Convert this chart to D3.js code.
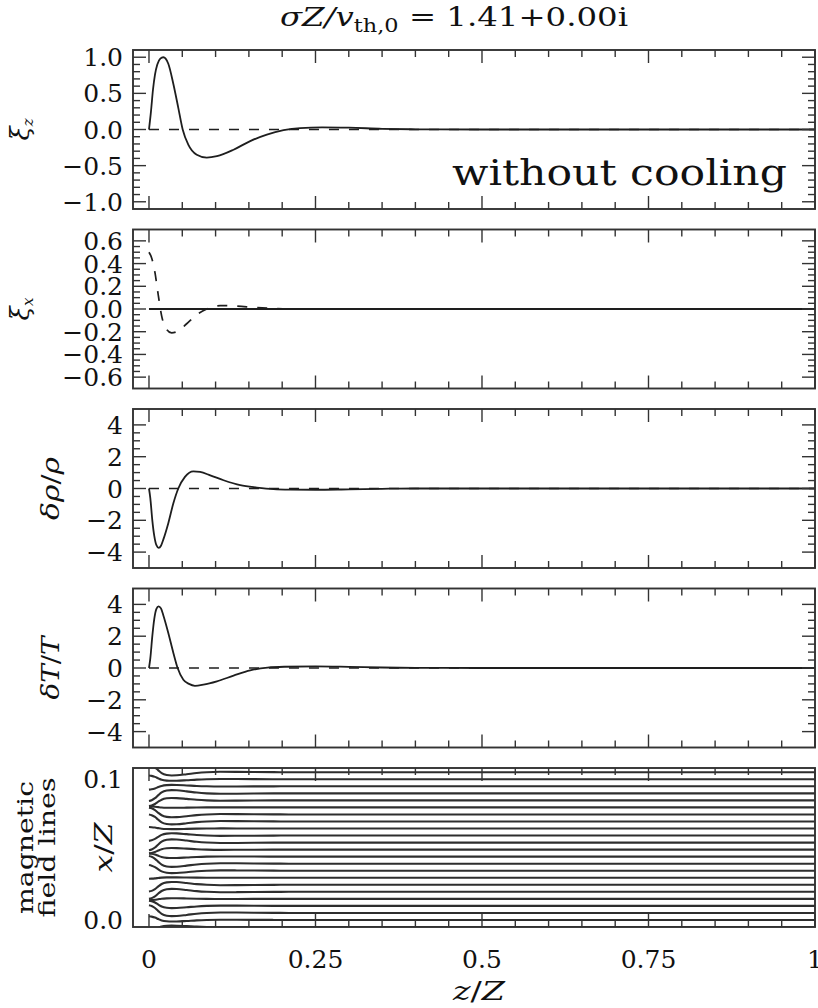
<!DOCTYPE html>
<html>
<head>
<meta charset="utf-8">
<script src="https://cdn.jsdelivr.net/npm/d3@7"></script>
<style>
  body { margin: 0; background: #fff; }
  text { font-family: "DejaVu Serif", serif; fill: #111; }
</style>
</head>
<body>
<script>
// eigenfunctions: [z/Z, value]
const xiZReal = [[0,0],[0.003,0.25],[0.006,0.55],[0.009,0.76],[0.0125,0.9],[0.017,0.98],[0.0215,1.0],
  [0.029,0.91],[0.0366,0.63],[0.044,0.3],[0.0506,0],[0.059,-0.21],[0.0717,-0.35],[0.0867,-0.39],
  [0.102,-0.37],[0.127,-0.28],[0.152,-0.16],[0.177,-0.07],[0.202,-0.01],[0.227,0.02],[0.26,0.03],
  [0.3,0.025],[0.35,0.01],[0.4,0.003],[0.5,0],[1,0]];
const xiXImag = [[0,0.5],[0.004,0.45],[0.009,0.32],[0.014,0.12],[0.019,-0.06],[0.0266,-0.18],
  [0.034,-0.21],[0.0416,-0.2],[0.0566,-0.13],[0.0717,-0.05],[0.0867,0],[0.107,0.03],[0.132,0.025],
  [0.157,0.015],[0.187,0.005],[0.21,0],[1,0]];
const rhoReal = [[0,0],[0.002,-0.6],[0.005,-2.0],[0.008,-3.0],[0.011,-3.55],[0.0145,-3.73],[0.018,-3.6],
  [0.0216,-3.2],[0.029,-2.18],[0.0366,-0.93],[0.044,0],[0.054,0.73],[0.0666,1.08],[0.0767,1.04],
  [0.092,0.83],[0.112,0.52],[0.137,0.21],[0.162,0.06],[0.187,-0.04],[0.212,-0.07],[0.25,-0.08],
  [0.3,-0.05],[0.35,-0.02],[0.4,0],[1,0]];
const tempReal = [[0,0],[0.002,0.6],[0.005,2.0],[0.008,3.1],[0.011,3.7],[0.0145,3.88],[0.018,3.75],
  [0.0216,3.3],[0.029,2.2],[0.0366,0.95],[0.043,0],[0.0516,-0.74],[0.06,-1.0],[0.069,-1.12],
  [0.0817,-1.05],[0.102,-0.84],[0.127,-0.48],[0.152,-0.15],[0.178,0.03],[0.203,0.08],[0.25,0.1],
  [0.3,0.07],[0.35,0.03],[0.4,0.01],[0.5,0],[1,0]];
const zeroLine = [[0,0],[1,0]];

// field lines: unperturbed x/Z positions, displaced by xi_x
const fieldLineX0 = [-0.005,0,0.005,0.01,0.015,0.02,0.025,0.03,0.035,0.04,0.045,0.05,0.055,
  0.06,0.065,0.07,0.075,0.08,0.085,0.09,0.095,0.1,0.105];
const fieldAmp = 0.0055, fieldPeriod = 0.1 / 3, fieldPhase = 0.014;

const xMajor = [0, 0.25, 0.5, 0.75, 1];
const xTickLabels = ["0", "0.25", "0.5", "0.75", "1"];
const xMinorStep = 0.05;

const yMajor1 = [-1, -0.5, 0, 0.5, 1], yLabels1 = ["−1.0", "−0.5", "0.0", "0.5", "1.0"];
const yMajor2 = [-0.6, -0.4, -0.2, 0, 0.2, 0.4, 0.6], yLabels2 = ["−0.6", "−0.4", "−0.2", "0.0", "0.2", "0.4", "0.6"];
const yMajor3 = [-4, -2, 0, 2, 4], yLabels3 = ["−4", "−2", "0", "2", "4"];
const yMajor5 = [0, 0.1], yLabels5 = ["0.0", "0.1"];

const W = 818, H = 1008;
const frameL = 133, frameR = 815, panelH = 159;

const svg = d3.select("body").append("svg").attr("width", W).attr("height", H);

const x = d3.scaleLinear().domain([-0.024, 1]).range([frameL, frameR]);

const panels = [
  {domain: [-1.1, 1.1], major: yMajor1, labels: yLabels1, minor: 0.1, solid: xiZReal, dashed: zeroLine},
  {domain: [-0.7, 0.7], major: yMajor2, labels: yLabels2, minor: 0.05, solid: zeroLine, dashed: xiXImag},
  {domain: [-5, 5], major: yMajor3, labels: yLabels3, minor: 0.5, solid: rhoReal, dashed: zeroLine},
  {domain: [-5, 5], major: yMajor3, labels: yLabels3, minor: 0.5, solid: tempReal, dashed: zeroLine},
  {domain: [-0.005, 0.108], major: yMajor5, labels: yLabels5, minor: null, field: true}
];

const ink = "#1e1e1e";

panels.forEach((p, i) => {
  const top = 50 + i * 179.5;
  const y = d3.scaleLinear().domain(p.domain).range([top + panelH, top]);
  const g = svg.append("g");

  const clipId = "clip" + i;
  svg.append("clipPath").attr("id", clipId).append("rect")
    .attr("x", frameL).attr("y", top).attr("width", frameR - frameL).attr("height", panelH);

  const line = d3.line().x(d => x(d[0])).y(d => y(d[1])).curve(d3.curveMonotoneX);
  const plot = g.append("g").attr("clip-path", `url(#${clipId})`);

  if (p.field) {
    const x0 = xiXImag[0][1];
    fieldLineX0.forEach(b => {
      const shape = Math.sin(2 * Math.PI * (b - fieldPhase) / fieldPeriod);
      const pts = xiXImag.map(([z, v]) => [z, b - fieldAmp * (v / x0) * shape]);
      plot.append("path").attr("d", line(pts))
        .attr("fill", "none").attr("stroke", "#2e2e2e").attr("stroke-width", 2.1);
    });
  } else {
    plot.append("path").attr("d", line(p.dashed))
      .attr("fill", "none").attr("stroke", ink).attr("stroke-width", 1.7)
      .attr("stroke-dasharray", "10,10");
    plot.append("path").attr("d", line(p.solid))
      .attr("fill", "none").attr("stroke", ink).attr("stroke-width", 1.8);
  }

  // x ticks, top and bottom
  const xMinor = d3.range(0, 1 + 1e-9, xMinorStep).filter(v => !xMajor.some(m => Math.abs(m - v) < 1e-9));
  const ticks = g.append("g").attr("stroke", "#333").attr("stroke-width", 1.4);
  [[xMajor, 13], [xMinor, 7]].forEach(([vals, len]) => {
    vals.forEach(v => {
      ticks.append("line").attr("x1", x(v)).attr("x2", x(v)).attr("y1", top + panelH).attr("y2", top + panelH - len);
      ticks.append("line").attr("x1", x(v)).attr("x2", x(v)).attr("y1", top).attr("y2", top + len);
    });
  });

  // y ticks, left and right
  if (p.minor) {
    const yMinor = d3.range(p.major[0], p.major[p.major.length - 1] + 1e-9, p.minor)
      .filter(v => !p.major.some(m => Math.abs(m - v) < 1e-9));
    [[p.major, 13], [yMinor, 7]].forEach(([vals, len]) => {
      vals.forEach(v => {
        ticks.append("line").attr("x1", frameL).attr("x2", frameL + len).attr("y1", y(v)).attr("y2", y(v));
        ticks.append("line").attr("x1", frameR).attr("x2", frameR - len).attr("y1", y(v)).attr("y2", y(v));
      });
    });
  }

  p.major.forEach((v, j) => {
    g.append("text").attr("x", 123).attr("y", y(v) + 9)
      .attr("text-anchor", "end").attr("font-size", 25).text(p.labels[j]);
  });

  g.append("rect").attr("x", frameL).attr("y", top).attr("width", frameR - frameL).attr("height", panelH)
    .attr("fill", "none").attr("stroke", "#333").attr("stroke-width", 1.9);

  p.top = top;
});

// x tick labels under last panel
xMajor.forEach((v, j) => {
  svg.append("text").attr("x", x(v)).attr("y", 968).attr("text-anchor", "middle")
    .attr("font-size", 25).text(xTickLabels[j]);
});

// x axis title
const xt = svg.append("text").attr("x", 479).attr("y", 1000).attr("text-anchor", "middle")
  .attr("font-size", 26).attr("textLength", 52).attr("lengthAdjust", "spacingAndGlyphs");
xt.append("tspan").attr("font-style", "italic").text("z");
xt.append("tspan").text("/");
xt.append("tspan").attr("font-style", "italic").text("Z");

// title
const title = svg.append("text").attr("x", 454).attr("y", 26).attr("text-anchor", "middle")
  .attr("font-size", 26).attr("textLength", 348).attr("lengthAdjust", "spacingAndGlyphs");
title.append("tspan").attr("font-style", "italic").text("σZ/v");
title.append("tspan").attr("font-size", 18).attr("dy", 6).text("th,0");
title.append("tspan").attr("dy", -6).text(" = 1.41+0.00i");

svg.append("text").attr("x", 787).attr("y", 185).attr("text-anchor", "end")
  .attr("font-size", 35).attr("textLength", 335).attr("lengthAdjust", "spacingAndGlyphs")
  .text("without cooling");

// y axis titles (rotated)
function yTitle(cx, cy, parts, size, len) {
  const t = svg.append("text").attr("transform", `translate(${cx},${cy}) rotate(-90)`)
    .attr("text-anchor", "middle").attr("font-size", size);
  if (len) t.attr("textLength", len).attr("lengthAdjust", "spacingAndGlyphs");
  parts.forEach(pt => {
    const s = t.append("tspan").text(pt.t);
    if (pt.i) s.attr("font-style", "italic");
    if (pt.fs) s.attr("font-size", pt.fs);
    if (pt.dy) s.attr("dy", pt.dy);
  });
  return t;
}
const mid = i => panels[i].top + panelH / 2;
yTitle(29, mid(0), [{t: "ξ", i: true}, {t: "z", i: true, fs: 15, dy: 4}], 26);
yTitle(29, mid(1), [{t: "ξ", i: true}, {t: "x", i: true, fs: 15, dy: 4}], 26);
yTitle(59, mid(2), [{t: "δρ", i: true}, {t: "/"}, {t: "ρ", i: true}], 25, 63);
yTitle(59, mid(3), [{t: "δT", i: true}, {t: "/"}, {t: "T", i: true}], 25, 63);
yTitle(33, mid(4), [{t: "magnetic"}], 23, 133);
yTitle(55, mid(4), [{t: "field lines"}], 23, 140);
yTitle(112, mid(4), [{t: "x", i: true}, {t: "/"}, {t: "Z", i: true}], 25, 50);
</script>
</body>
</html>
